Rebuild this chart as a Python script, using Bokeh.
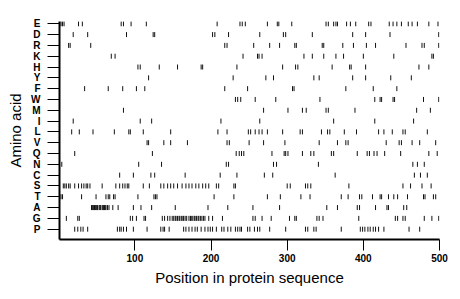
import numpy as np
from bokeh.plotting import figure
from bokeh.models import Range1d, FixedTicker, ColumnDataSource
from bokeh.embed import file_html
from bokeh.resources import INLINE

# Amino acids, bottom row first
amino_acids = ["P", "G", "A", "T", "S", "C", "N", "Q", "V", "L",
               "I", "M", "W", "F", "Y", "H", "K", "R", "D", "E"]

E = [3, 5, 7, 26, 31, 82, 85, 95, 115, 208, 238, 241, 245, 274, 287, 289, 306, 351, 354,
     361, 364, 366, 378, 383, 390, 407, 410, 434, 439, 444, 450, 459, 464, 471, 486, 498]
D = [19, 38, 89, 124, 126, 202, 205, 223, 264, 295, 298, 333, 386, 403, 435, 499]
R = [13, 15, 42, 218, 221, 256, 277, 290, 310, 312, 346, 348, 373, 387, 404, 416, 456,
     477, 480, 499]
K = [69, 74, 242, 261, 263, 267, 322, 333, 348, 364, 374, 400, 440, 490, 492]
H = [104, 107, 132, 156, 187, 189, 234, 294, 311, 314, 359, 382, 384, 403, 473, 486]
Y = [118, 229, 272, 282, 335, 342, 386, 403, 436, 463]
F = [34, 65, 84, 102, 113, 218, 248, 307, 309, 377, 413, 444]
W = [232, 235, 239, 258, 285, 343, 415, 422, 424, 439, 441, 479, 499]
M = [85, 269, 301, 320, 325, 351, 354, 389, 470, 488]
I = [19, 107, 122, 213, 264, 361, 415, 466]
L = [17, 27, 45, 73, 92, 94, 111, 147, 209, 221, 249, 252, 258, 263, 267, 274, 294, 317,
     320, 345, 353, 356, 375, 391, 420, 427, 438, 452, 455, 484]
V = [116, 118, 138, 147, 169, 221, 224, 250, 269, 297, 342, 366, 377, 380, 430, 447, 450,
     464, 474, 495]
Q = [21, 123, 233, 237, 240, 243, 280, 296, 298, 301, 320, 331, 335, 358, 361, 392, 405,
     408, 414, 418, 428, 449, 486, 497]
N = [4, 105, 135, 220, 223, 282, 286, 341, 465, 471, 480]
C = [80, 98, 121, 126, 166, 212, 234, 270, 281, 363, 467, 475, 484]
S = [6, 8, 10, 13, 15, 21, 26, 30, 33, 36, 38, 41, 57, 75, 80, 84, 87, 90, 92, 111, 119,
     134, 138, 143, 147, 151, 156, 162, 167, 171, 175, 180, 184, 189, 193, 197, 207, 210,
     230, 232, 300, 304, 324, 327, 331, 381, 452, 462, 477, 489]
T = [3, 5, 30, 49, 62, 65, 67, 72, 74, 104, 125, 127, 129, 204, 230, 274, 291, 318, 330,
     371, 380, 395, 398, 412, 422, 424, 433, 440, 445, 458, 479, 481, 492, 495]
A = [43, 44, 45, 46, 47, 48, 49, 50, 51, 53, 54, 55, 57, 58, 59, 60, 61, 62, 64, 66, 71,
     78, 98, 108, 122, 153, 196, 222, 255, 290, 352, 366, 392, 395, 416, 431, 433, 453, 457]
G = [10, 25, 27, 94, 97, 102, 112, 114, 136, 139, 143, 146, 149, 151, 153, 154, 156, 158,
     159, 161, 163, 164, 166, 168, 171, 173, 174, 176, 178, 179, 181, 183, 184, 186, 188,
     190, 192, 197, 202, 215, 255, 258, 267, 279, 303, 310, 312, 339, 342, 347, 394, 442,
     445, 452, 455, 480, 490, 499]
P = [21, 25, 29, 32, 38, 77, 80, 82, 85, 89, 98, 116, 134, 137, 139, 145, 164, 167, 171,
     175, 179, 182, 187, 192, 196, 199, 202, 207, 214, 217, 222, 226, 232, 235, 238, 240,
     248, 251, 257, 261, 264, 277, 298, 324, 327, 335, 338, 371, 396, 399, 402, 406, 409,
     413, 416, 420, 427, 460, 474]

positions = {"E": E, "D": D, "R": R, "K": K, "H": H, "Y": Y, "F": F, "W": W, "M": M,
             "I": I, "L": L, "V": V, "Q": Q, "N": N, "C": C, "S": S, "T": T, "A": A,
             "G": G, "P": P}

x_ticks = [100, 200, 300, 400, 500]

xs, ys = [], []
for i, aa in enumerate(amino_acids):
    for pos in positions[aa]:
        xs.append(pos)
        ys.append(i)
src = ColumnDataSource(dict(x=xs, y=ys))

p = figure(width=460, height=299, x_range=Range1d(1, 500), y_range=Range1d(-0.953, 19.21),
           output_backend="svg", toolbar_location=None,
           min_border_left=59, min_border_right=21, min_border_top=21, min_border_bottom=60)
p.outline_line_color = None
p.xgrid.visible = False
p.ygrid.visible = False
p.background_fill_color = "white"
p.border_fill_color = "white"

p.scatter(x="x", y="y", source=src, marker="dash", angle=np.pi / 2, size=5,
          line_color="#111111", line_width=1)

font = "Liberation Sans"
for ax in (p.xaxis[0], p.yaxis[0]):
    ax.minor_tick_line_color = None
    ax.major_tick_in = 0
    ax.major_tick_line_width = 1
    ax.major_tick_line_color = "black"
    ax.axis_line_width = 2
    ax.axis_line_color = "black"
    ax.major_label_text_font = font
    ax.major_label_text_font_size = "10px"
    ax.major_label_text_font_style = "bold"
    ax.major_label_text_color = "black"
    ax.axis_label_text_font = font
    ax.axis_label_text_font_size = "15px"
    ax.axis_label_text_font_style = "normal"
    ax.axis_label_text_color = "black"

xa = p.xaxis[0]
xa.ticker = FixedTicker(ticks=x_ticks)
xa.major_tick_out = 11
xa.major_label_standoff = 3
xa.axis_label = "Position in protein sequence"
xa.axis_label_standoff = 4

ya = p.yaxis[0]
ya.ticker = FixedTicker(ticks=list(range(len(amino_acids))))
ya.major_label_overrides = {i: aa for i, aa in enumerate(amino_acids)}
ya.major_tick_out = 12
ya.major_label_standoff = 7
ya.axis_label = "Amino acid"
ya.axis_label_standoff = 4

open("out.html", "w").write(file_html(p, INLINE))
